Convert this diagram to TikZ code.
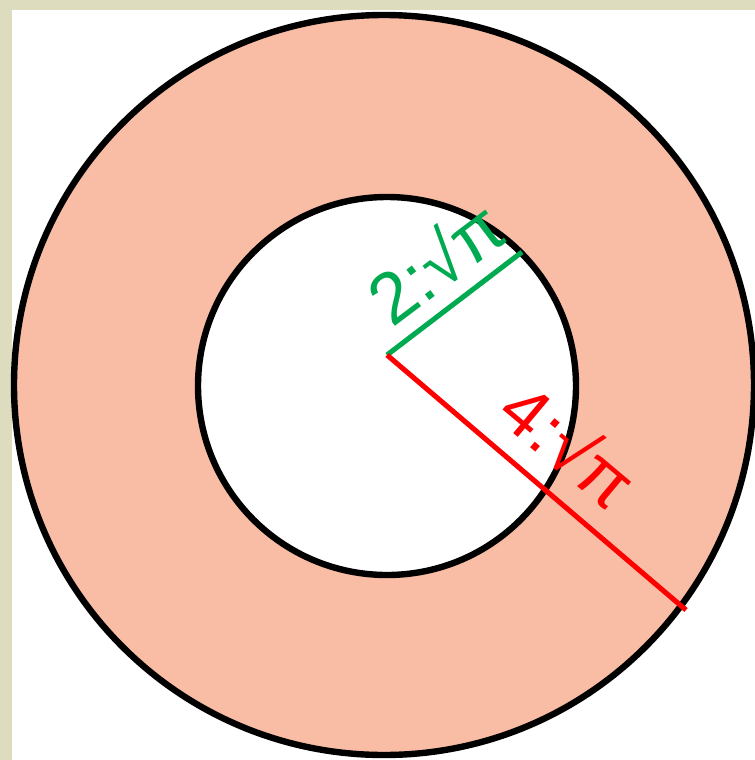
\documentclass[tikz,border=0pt]{standalone}
\usepackage{fontspec}
\setmainfont{Liberation Sans}
\definecolor{beige}{HTML}{DEDCBE}
\definecolor{salmon}{HTML}{F9BCA5}
\definecolor{mygreen}{HTML}{00AA50}
\definecolor{myred}{HTML}{FF0000}
\begin{document}
\begin{tikzpicture}[x=0.75pt,y=-0.75pt,
  ring/.style={draw=black,line width=4.8pt},
  radline/.style={line width=3.8pt},
  lbl/.style={font=\fontsize{54}{62}\selectfont,inner sep=0pt}]
\useasboundingbox (0,0) rectangle (755,760);
\fill[beige] (0,0) rectangle (755,760);
\fill[white] (12,10) rectangle (755,760);
\draw[ring,fill=salmon] (384,385) circle[radius=277.5pt];
\draw[ring,fill=white] (387,386) circle[radius=141.75pt];
\coordinate (O) at (387,355);
\coordinate (G) at (522,252);
\coordinate (R) at (686,610);
\draw[radline,mygreen] (O) -- (G);
\draw[radline,myred] (O) -- (R);
\node[lbl,text=mygreen,rotate=37] (tg) at (435,261) {2:√π};
\node[lbl,text=myred,rotate=-40] (tr) at (570,444) {4:√π};
\end{tikzpicture}
\end{document}
